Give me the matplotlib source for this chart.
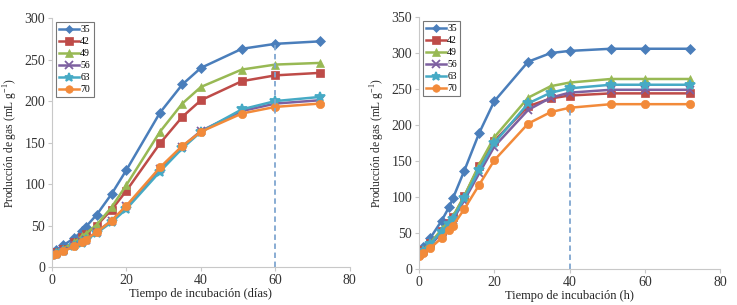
import matplotlib
matplotlib.use("Agg")
import matplotlib.pyplot as plt

t = [0, 1, 3, 6, 8, 9, 12, 16, 20, 29, 35, 40, 51, 60, 72]
labels = ["35", "42", "49", "56", "63", "70"]

left_vals = [
    [18, 20, 26, 35, 43, 48, 63, 88, 117, 186, 220, 240, 263, 269, 272],
    [16, 18, 22, 30, 36, 40, 50, 69, 92, 149, 181, 201, 224, 231, 234],
    [16, 18, 22, 30, 37, 40, 51, 72, 99, 163, 197, 217, 238, 244, 246],
    [14, 16, 19, 26, 30, 33, 42, 56, 73, 118, 145, 164, 188, 197, 201],
    [14, 16, 19, 25, 29, 32, 41, 54, 70, 115, 143, 163, 190, 200, 205],
    [14, 16, 19, 25, 30, 33, 42, 56, 74, 120, 146, 163, 185, 193, 197],
]
right_vals = [
    [25, 30, 43, 67, 86, 98, 136, 189, 233, 288, 300, 303, 306, 306, 306],
    [22, 26, 36, 53, 64, 72, 101, 143, 178, 226, 237, 241, 244, 244, 244],
    [22, 26, 36, 55, 66, 73, 101, 145, 183, 238, 254, 259, 264, 264, 264],
    [20, 24, 33, 50, 62, 68, 95, 133, 170, 221, 238, 245, 249, 249, 249],
    [21, 25, 35, 52, 63, 70, 98, 138, 175, 230, 245, 251, 256, 256, 256],
    [18, 22, 29, 43, 54, 60, 83, 117, 151, 202, 218, 224, 229, 229, 229],
]
left_vline = (60, 269)
right_vline = (40, 224)

colors = ["#4A7EBB", "#BE4B48", "#98B954", "#7D60A0", "#46AAC5", "#F28A3A"]
markers = ["D", "s", "^", "x", "*", "o"]
msizes = [5, 6, 6, 6, 7, 6]

plt.rcParams["font.family"] = ["Liberation Serif", "DejaVu Serif"]


def draw(ax, vals, vline, ymax, xlabel, pos):
    ax.set_position(pos)
    for v, lab, c, m, ms in zip(vals, labels, colors, markers, msizes):
        ax.plot(t, v, color=c, marker=m, markersize=ms, linewidth=1.8, label=lab,
                markeredgewidth=1.3 if m in ("x", "*") else 0.5)
    ax.plot([vline[0], vline[0]], [0, vline[1]], color="#7FA6D0",
            linestyle=(0, (3, 2)), linewidth=1.3)
    ax.set_xlim(0, 80)
    ax.set_ylim(0, ymax)
    ax.set_xticks(range(0, 81, 20))
    ax.set_yticks(range(0, ymax + 1, 50))
    for s in ("top", "right"):
        ax.spines[s].set_visible(False)
    for s in ("left", "bottom"):
        ax.spines[s].set_color("#C8C8C8")
    ax.tick_params(colors="#333333", labelsize=10, length=3, color="#C8C8C8", pad=2)
    ax.set_xlabel(xlabel, fontsize=9, labelpad=1, color="#222222")
    ax.set_ylabel("Producción de gas (mL g$^{\\mathregular{-1}}$)", fontsize=8.3,
                  labelpad=3, color="#222222")
    leg = ax.legend(loc="upper left", fontsize=7, handlelength=2.0,
                    handletextpad=0.15, labelspacing=0.3, borderpad=0.35,
                    fancybox=False, framealpha=1, borderaxespad=0.4,
                    markerscale=0.9)
    leg.get_frame().set_edgecolor("#777777")
    leg.get_frame().set_linewidth(0.8)


fig = plt.figure(figsize=(7.37, 3.05), dpi=100)
ax1 = fig.add_subplot(1, 2, 1)
ax2 = fig.add_subplot(1, 2, 2)
draw(ax1, left_vals, left_vline, 300, "Tiempo de incubación (días)",
     [0.0706, 0.1246, 0.404, 0.816])
draw(ax2, right_vals, right_vline, 350, "Tiempo de incubación (h)",
     [0.5685, 0.118, 0.4085, 0.826])
fig.savefig("out.png", dpi=100)
